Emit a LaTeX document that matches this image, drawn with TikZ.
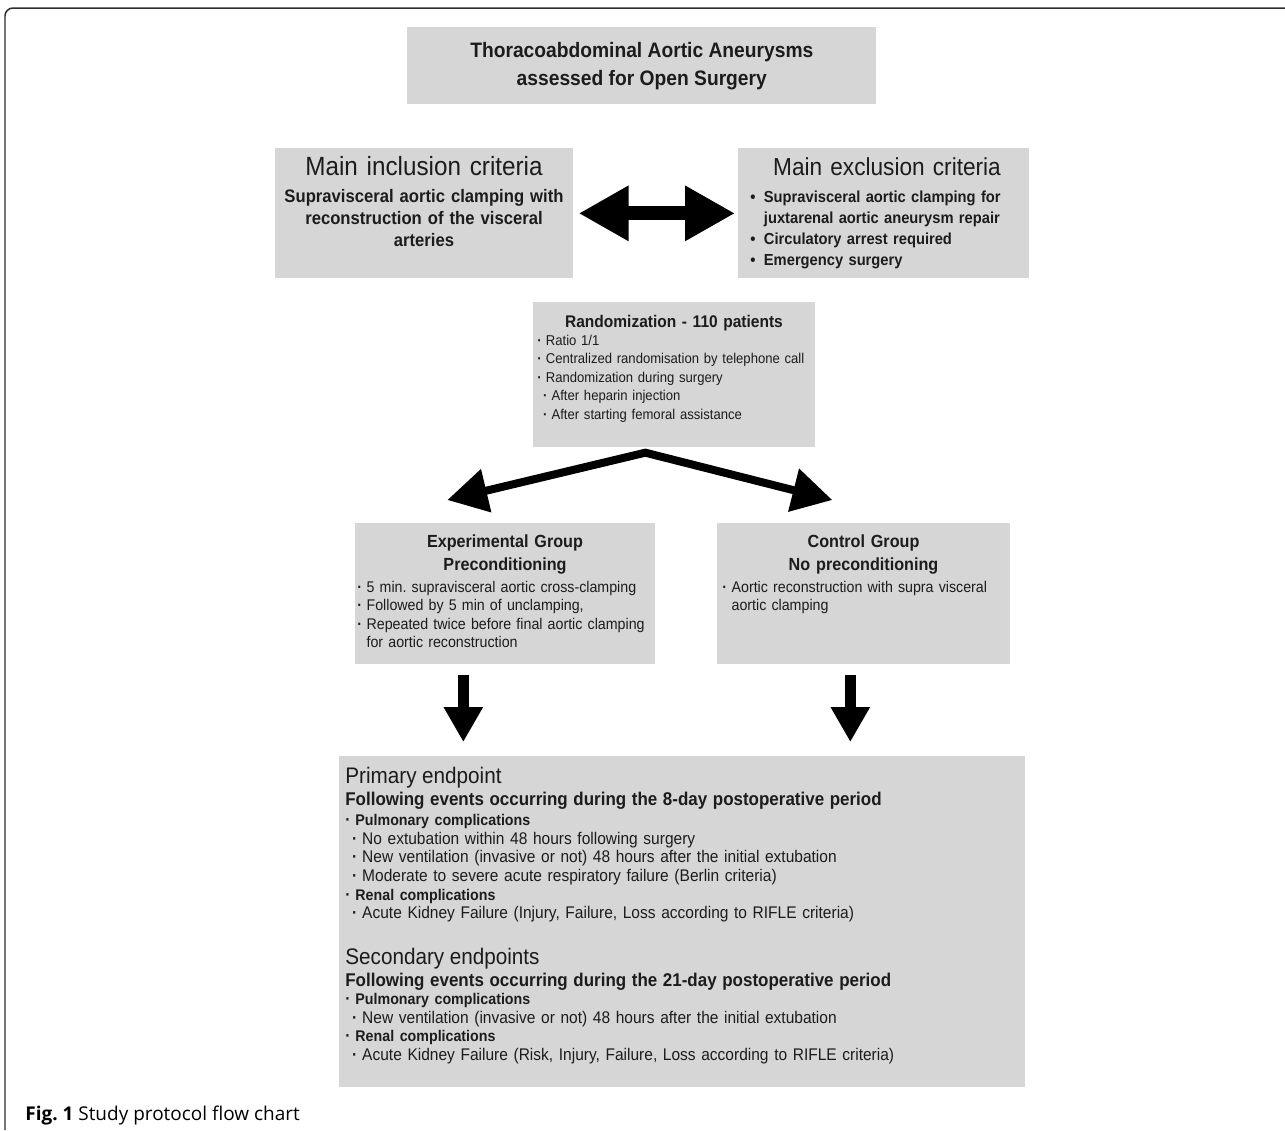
\documentclass[tikz,border=0pt]{standalone}
\usepackage{fontspec}
\setmainfont{Liberation Sans}[FakeStretch=0.92]
\newfontfamily\capfont{Open Sans}
\usetikzlibrary{arrows.meta,positioning}

\definecolor{boxgray}{RGB}{214,214,214}
\definecolor{inkblack}{RGB}{28,28,28}
\definecolor{framegray}{RGB}{45,45,45}

% bullets for the lists
\newcommand{\bigdot}{\makebox[0.85em][l]{•}}
\newcommand{\smalldot}{\makebox[0.6em][l]{\bfseries·}}
\newcommand{\subdot}{\hspace*{0.4em}\smalldot}

\begin{document}
\frenchspacing
\begin{tikzpicture}[x=0.02cm, y=-0.02cm,
    panel/.style ={fill=boxgray, inner sep=0pt, anchor=north west},
    heading/.style ={text=inkblack, align=center, anchor=base, inner sep=0pt},
    listing/.style ={text=inkblack, align=left, anchor=base west, inner sep=0pt},
    duoarrow/.style ={line width=0.28cm, {Triangle[length=1cm,width=1.04cm]}-{Triangle[length=1cm,width=1.04cm]}},
    forkarrow/.style ={line width=0.16cm, miter limit=20, {Triangle[length=0.8cm,width=0.85cm]}-{Triangle[length=0.8cm,width=0.85cm]}},
    droparrow/.style ={line width=0.22cm, -{Triangle[length=0.7cm,width=0.74cm]}}]
   \useasboundingbox (0,0) rectangle (1285,1130);
   \draw[framegray, line width=0.03cm, rounded corners=0.16cm] (5,1130) -- (5,8) -- (1285,8);

   % boxes
   \node[panel, minimum width=9.38cm, minimum height=1.54cm, align=center,
         text=inkblack, font=\bfseries\fontsize{11.9}{16}\selectfont] (title) at (407,27)
         {Thoracoabdominal Aortic Aneurysms\\assessed for Open Surgery};
   \node[panel, minimum width=5.96cm, minimum height=2.6cm] (incl) at (275,148) {};
   \node[panel, minimum width=5.82cm, minimum height=2.6cm] (excl) at (738,148) {};
   \node[panel, minimum width=5.64cm, minimum height=2.9cm] (rand) at (533,302) {};
   \node[panel, minimum width=6.0cm, minimum height=2.82cm] (exp) at (355,523) {};
   \node[panel, minimum width=5.86cm, minimum height=2.82cm] (ctrl) at (717,523) {};
   \node[panel, minimum width=13.72cm, minimum height=6.62cm] (endp) at (339,756) {};

   % texts
   \node[heading, text width=5.8cm, font=\fontsize{15}{18}\selectfont] (inclhead) at (424,175.5) {Main inclusion criteria};
   \node[heading, text width=5.8cm, font=\bfseries\fontsize{10.3}{12.5}\selectfont] (incltxt) at (424,202.5)
         {Supravisceral aortic clamping with\\reconstruction of the visceral\\arteries};
   \node[heading, text width=5.8cm, font=\fontsize{14}{18}\selectfont] (exclhead) at (887,175.5) {Main exclusion criteria};
   \node[listing, text width=7cm, font=\bfseries\fontsize{9.1}{11.9}\selectfont] (excllist) at (750,202.5)
         {\bigdot Supravisceral aortic clamping for\\
          \hspace*{0.85em}juxtarenal aortic aneurysm repair\\
          \bigdot Circulatory arrest required\\
          \bigdot Emergency surgery};

   \node[heading, text width=5.6cm, font=\bfseries\fontsize{9.6}{12}\selectfont] (randhead) at (674,327) {Randomization - 110 patients};
   \node[listing, text width=7cm, font=\fontsize{8.1}{10.6}\selectfont] (randlist) at (537,345)
         {\smalldot Ratio 1/1\\
          \smalldot Centralized randomisation by telephone call\\
          \smalldot Randomization during surgery\\
          \subdot After heparin injection\\
          \subdot After starting femoral assistance};

   \node[heading, text width=5.8cm, font=\bfseries\fontsize{10}{13.6}\selectfont] (exphead) at (505,547)
         {Experimental Group\\Preconditioning};
   \node[listing, text width=7cm, font=\fontsize{8.8}{10.5}\selectfont] (explist) at (357,592.5)
         {\smalldot 5 min. supravisceral aortic cross-clamping\\
          \smalldot Followed by 5 min of unclamping,\\
          \smalldot Repeated twice before final aortic clamping\\
          \hspace*{0.6em}for aortic reconstruction};
   \node[heading, text width=5.7cm, font=\bfseries\fontsize{10}{13.6}\selectfont] (ctrlhead) at (863.5,547)
         {Control Group\\No preconditioning};
   \node[listing, text width=7cm, font=\fontsize{8.8}{10.5}\selectfont] (ctrllist) at (722,592.5)
         {\smalldot Aortic reconstruction with supra visceral\\
          \hspace*{0.6em}aortic clamping};

   \node[listing, text width=13.5cm, font=\fontsize{9.6}{10.6}\selectfont] (endptxt) at (345,783)
         {{\fontsize{12.8}{10.6}\selectfont Primary endpoint}\\[2.4pt]
          {\bfseries\fontsize{10.5}{10.6}\selectfont Following events occurring during the 8-day postoperative period}\\[0.7pt]
          \smalldot{\bfseries\fontsize{8.8}{10.6}\selectfont Pulmonary complications}\\
          \subdot No extubation within 48 hours following surgery\\
          \subdot New ventilation (invasive or not) 48 hours after the initial extubation\\
          \subdot Moderate to severe acute respiratory failure (Berlin criteria)\\
          \smalldot{\bfseries\fontsize{8.8}{10.6}\selectfont Renal complications}\\
          \subdot Acute Kidney Failure (Injury, Failure, Loss according to RIFLE criteria)\\[13.5pt]
          {\fontsize{12.8}{10.6}\selectfont Secondary endpoints}\\[1.9pt]
          {\bfseries\fontsize{10.5}{10.6}\selectfont Following events occurring during the 21-day postoperative period}\\
          \smalldot{\bfseries\fontsize{8.8}{10.6}\selectfont Pulmonary complications}\\
          \subdot New ventilation (invasive or not) 48 hours after the initial extubation\\
          \smalldot{\bfseries\fontsize{8.8}{10.6}\selectfont Renal complications}\\
          \subdot Acute Kidney Failure (Risk, Injury, Failure, Loss according to RIFLE criteria)};

   \node[anchor=base west, inner sep=0pt, font=\capfont\fontsize{10.8}{12}\selectfont] (caption) at (25,1120)
         {\textbf{Fig. 1} Study protocol flow chart};

   % arrows
   \draw[duoarrow, shorten <=0.1cm, shorten >=0.06cm] (incl.east) -- (excl.west);
   \coordinate (fork) at ([shift={(-29,5)}]rand.south);
   \coordinate (expin) at ([shift={(-58,-23)}]exp.north);
   \coordinate (ctrlin) at ([shift={(-31.5,-23)}]ctrl.north);
   \draw[forkarrow] (expin) -- (fork) -- (ctrlin);
   \coordinate (expout) at ([shift={(-42,10)}]exp.south);
   \coordinate (ctrlout) at ([shift={(-13.5,10)}]ctrl.south);
   \draw[droparrow, shorten >=0.28cm] (expout) -- (expout |- endp.north);
   \draw[droparrow, shorten >=0.28cm] (ctrlout) -- (ctrlout |- endp.north);
 \end{tikzpicture}
\end{document}
